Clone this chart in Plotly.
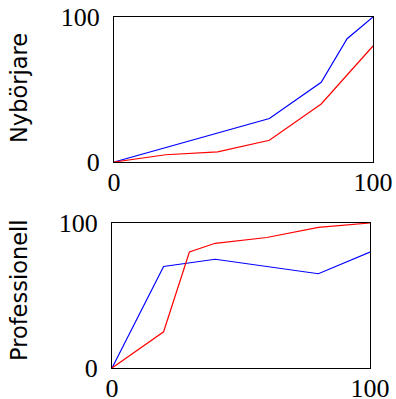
import plotly.graph_objects as go

# Top panel: Nybörjare
top_blue_x = [0, 60, 80, 90, 100]
top_blue_y = [0, 30, 55, 85, 100]
top_red_x = [0, 20, 40, 60, 80, 100]
top_red_y = [0, 5, 7, 15, 40, 80]

# Bottom panel: Professionell
bot_blue_x = [0, 20, 40, 80, 100]
bot_blue_y = [0, 70, 75, 65, 80]
bot_red_x = [0, 20, 30, 40, 60, 80, 100]
bot_red_y = [0, 25, 80, 86, 90, 97, 100]

tick_vals = [0, 100]
tick_text = ["0", "100"]
titles = ["Nybörjare", "Professionell"]

W, H = 396, 399


def px(x):
    return x / W


def py(y):
    return (H - y) / H


fig = go.Figure()
lw = 1.2
fig.add_trace(go.Scatter(x=top_blue_x, y=top_blue_y, mode="lines", line=dict(color="#0000ff", width=lw), xaxis="x", yaxis="y"))
fig.add_trace(go.Scatter(x=top_red_x, y=top_red_y, mode="lines", line=dict(color="#ff0000", width=lw), xaxis="x", yaxis="y"))
fig.add_trace(go.Scatter(x=bot_blue_x, y=bot_blue_y, mode="lines", line=dict(color="#0000ff", width=lw), xaxis="x2", yaxis="y2"))
fig.add_trace(go.Scatter(x=bot_red_x, y=bot_red_y, mode="lines", line=dict(color="#ff0000", width=lw), xaxis="x2", yaxis="y2"))

tickfont = dict(family="Liberation Serif", size=26, color="black")
ax_common = dict(range=[0, 100], tickvals=tick_vals, ticktext=tick_text, showgrid=False, zeroline=False,
                 showline=True, mirror=True, linecolor="black", linewidth=1, ticks="", tickfont=tickfont,
                 automargin=False, ticklabeloverflow="allow")

fig.update_layout(
    width=W, height=H, margin=dict(l=0, r=0, t=0, b=0, autoexpand=False),
    plot_bgcolor="white", paper_bgcolor="white", showlegend=False,
    xaxis=dict(domain=[px(114), px(373)], anchor="y", ticklabelstandoff=-3, **ax_common),
    yaxis=dict(domain=[py(162), py(17)], anchor="x", ticklabelstandoff=8, **ax_common),
    xaxis2=dict(domain=[px(112), px(370)], anchor="y2", ticklabelstandoff=-3, **ax_common),
    yaxis2=dict(domain=[py(368), py(223)], anchor="x2", ticklabelstandoff=8, **ax_common),
)

title_font = dict(family="DejaVu Sans", size=22.5, color="black")
fig.add_annotation(text=titles[0], xref="paper", yref="paper", x=px(19), y=py(88), textangle=-90,
                   showarrow=False, font=title_font, xanchor="center", yanchor="middle")
fig.add_annotation(text=titles[1], xref="paper", yref="paper", x=px(19), y=py(290), textangle=-90,
                   showarrow=False, font=title_font, xanchor="center", yanchor="middle")

fig.write_html("out.html", config={"displayModeBar": False},
               post_script="document.body.style.margin='0';")
